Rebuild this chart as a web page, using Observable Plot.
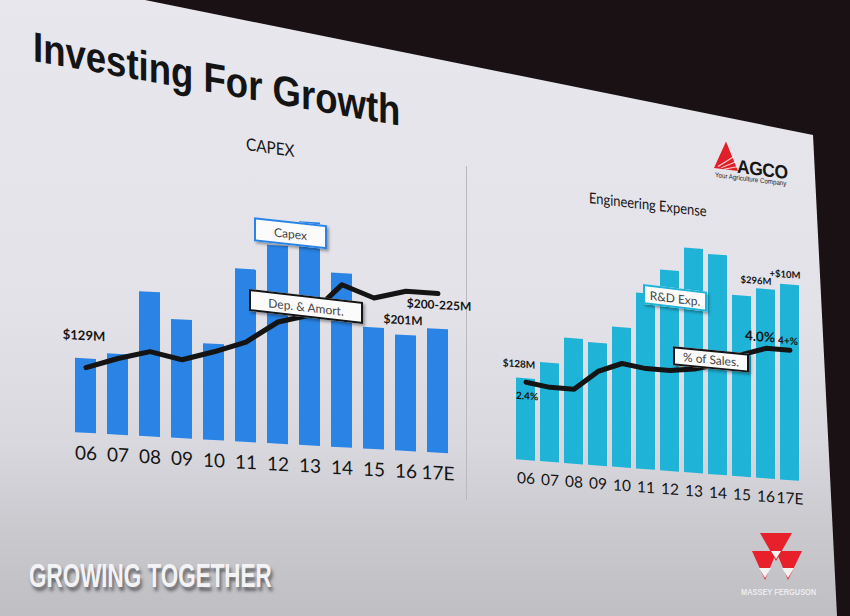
<!DOCTYPE html>
<html>
<head>
<meta charset="utf-8">
<script src="https://cdn.jsdelivr.net/npm/d3@7"></script>
<script src="https://cdn.jsdelivr.net/npm/@observablehq/plot@0.6"></script>
<style>
  html, body { margin: 0; padding: 0; }
  body { width: 850px; height: 616px; overflow: hidden; background: #1a1114; position: relative; }
  #slide { position: absolute; left: 0; top: 0; width: 850px; height: 616px;
    clip-path: polygon(0 0, 145px 0, 813px 135px, 837px 616px, 0 616px);
    background: linear-gradient(180deg, #e7e7ed 0%, #e2e2e8 50%, #d8d8de 72%, #c9c9ce 86%, #bebec3 100%); }
  .abs { position: absolute; transform-origin: 0 0; white-space: nowrap; line-height: 1; }
  #title { left: 33px; top: 23px; font: bold 42px "Liberation Sans", Arial, sans-serif; color: #141414;
    transform: skewY(10deg) scaleX(0.87); }
  .ctitle { font-family: Lato, sans-serif; color: #151515; }
  #capexTitle { left: 246px; top: 135px; font-size: 17px; transform: skewY(8deg) scaleX(0.9); }
  #engTitle { left: 589px; top: 190px; font-size: 15px; transform: skewY(6.6deg) scaleX(0.86); }
  #divider { left: 466px; top: 166px; width: 1px; height: 334px; background: #b9b9bf; }
  .chart { position: absolute; transform-origin: 0 0; }
  .chart svg { display: block; overflow: visible; }
  .box { position: absolute; box-sizing: border-box; background: #fbfbfb; font: 12px Lato, sans-serif; color: #444;
    display: flex; align-items: center; justify-content: center; transform-origin: 0 0;
    box-shadow: 2px 2px 3px rgba(0,0,0,0.35); white-space: nowrap; }
  #growing { left: 29px; top: 557px; font: bold 33.5px "Liberation Sans", Arial, sans-serif; color: #f3f3f5;
    transform: scaleX(0.67); text-shadow: 3px 4px 4px rgba(50,50,55,0.65); }
  #agco { left: 714px; top: 140px; width: 80px; height: 50px; transform: skewY(7deg); }
  #agco .name { position: absolute; left: 23px; top: 13px; font: bold 19px "Liberation Sans", Arial, sans-serif; color: #161616; transform: scaleX(0.92); transform-origin: 0 0; letter-spacing: -0.5px; }
  #agco .tag { position: absolute; left: 1px; top: 31px; font: 7px "Liberation Sans", Arial, sans-serif; color: #222; transform: scaleX(0.88); transform-origin: 0 0; white-space: nowrap; }
  #mf { left: 748px; top: 530px; width: 60px; height: 70px; }
  #mf .txt { position: absolute; left: -7px; top: 56px; font: bold 9.5px "Liberation Sans", Arial, sans-serif; color: #ececef; transform: scaleX(0.78); transform-origin: 0 0; white-space: nowrap; }
</style>
</head>
<body>
<div id="slide">
  <div id="title" class="abs">Investing For Growth</div>
  <div id="capexTitle" class="abs ctitle">CAPEX</div>
  <div id="engTitle" class="abs ctitle">Engineering Expense</div>
  <div id="divider" class="abs"></div>
  <div id="capexChart" class="chart"></div>
  <div id="engChart" class="chart"></div>
  <div id="agco" class="abs">
    <svg width="24" height="30" viewBox="0 0 24 30" style="position:absolute;left:0;top:0">
      <polygon points="12,0 24,28 0,28" fill="#e0202a"/>
      <path d="M4,26 L20,14 M7,27 L22,19 M10,28 L23,24" stroke="#fff" stroke-width="1" opacity="0.8"/>
    </svg>
    <div class="name">AGCO</div>
    <div class="tag">Your Agriculture Company</div>
  </div>
  <div id="mf" class="abs">
    <svg width="60" height="56" viewBox="0 0 60 56" style="position:absolute;left:0;top:0">
      <polygon points="12,3 44,3 28,31" fill="#e8202c"/>
      <polygon points="4,21 29,21 17,50" fill="#e8202c"/>
      <polygon points="28,21 54,21 40,50" fill="#e8202c"/>
      <polygon points="23,21 33,21 28,29" fill="#f2f2f2"/>
      <polygon points="11,38 23,38 17,48" fill="#f2f2f2"/>
      <polygon points="34,38 46,38 40,48" fill="#f2f2f2"/>
    </svg>
    <div class="txt">MASSEY FERGUSON</div>
  </div>
  <div id="growing" class="abs">GROWING TOGETHER</div>
</div>
<script>
// ---- data ----
const years = ["06", "07", "08", "09", "10", "11", "12", "13", "14", "15", "16", "17E"];
const capex = [129, 140, 251, 206, 167, 300, 344, 388, 302, 211, 201, 215];          // $M, bars
const depAmort = [114, 133, 148, 137, 154, 174, 212, 227, 283, 263, 278, 277];       // $M, line
const engExpense = [128, 155, 196, 192, 219, 275, 314, 351, 344, 283, 296, 306];     // $M, bars
const engPctSales = [2.4, 2.3, 2.3, 2.9, 3.2, 3.1, 3.1, 3.2, 3.4, 3.75, 4.0, 4.0];   // %, line
const capexLegend = ["Capex", "Dep. & Amort."];
const engLegend = ["R&D Exp.", "% of Sales."];
const capexNotes = [
  {year: "06", text: "$129M"},
  {year: "16", text: "$201M"},
  {year: "17E", text: "$200-225M"}
];
const engBarNotes = [
  {year: "06", text: "$128M"},
  {year: "16", text: "$296M"},
  {year: "17E", text: "+$10M"}
];
const engLineNotes = [
  {year: "06", text: "2.4%"},
  {year: "16", text: "4.0%"},
  {year: "17E", text: "4+%"}
];

const PCT_TO_M = 51; // secondary axis: % of sales drawn against the $M axis

const capexRows = years.map((year, i) => ({year, capex: capex[i], dep: depAmort[i]}));
const engRows = years.map((year, i) => ({year, eng: engExpense[i], pct: engPctSales[i]}));
const capexOf = d => capex[years.indexOf(d.year)];
const engOf = d => engExpense[years.indexOf(d.year)];
const pctOf = d => engPctSales[years.indexOf(d.year)] * PCT_TO_M;
const noteStyle = {fontFamily: "Lato, sans-serif", fontWeight: "bold", fill: "#151515", text: "text"};

// ---- CAPEX chart ----
const capexPlot = Plot.plot({
  width: 414, height: 279,
  marginTop: 5, marginBottom: 32, marginLeft: 8, marginRight: 8,
  x: {type: "band", domain: years, padding: 0.35, tickSize: 0, tickPadding: 13, label: null},
  y: {domain: [0, 420], axis: null},
  style: {fontFamily: "Lato, sans-serif", fontSize: "19px", color: "#151515", background: "transparent", overflow: "visible"},
  marks: [
    Plot.barY(capexRows, {x: "year", y: "capex", fill: "#2a84e6"}),
    Plot.line(capexRows, {x: "year", y: "dep", stroke: "#141414", strokeWidth: 5, strokeLinejoin: "round", strokeLinecap: "round"}),
    Plot.text(capexNotes.slice(0, 1), {...noteStyle, x: "year", y: capexOf, fontSize: 13, dx: -2, dy: -23}),
    Plot.text(capexNotes.slice(1, 2), {...noteStyle, x: "year", y: capexOf, fontSize: 12, dx: -3, dy: -15}),
    Plot.text(capexNotes.slice(2, 3), {...noteStyle, x: "year", y: capexOf, fontSize: 12, dx: 1, dy: -24})
  ]
});
const capexDiv = document.getElementById("capexChart");
capexDiv.style.left = "54px";
capexDiv.style.top = "184px";
capexDiv.style.transform = "skewY(3.23deg)";
capexDiv.appendChild(capexPlot);

function addBox(parent, text, left, top, w, h, border, skew) {
  const b = document.createElement("div");
  b.className = "box";
  b.textContent = text;
  Object.assign(b.style, {left: left + "px", top: top + "px", width: w + "px", height: h + "px",
    border: "2px solid " + border, transform: "skewY(" + skew + "deg)"});
  parent.appendChild(b);
}
addBox(capexDiv, capexLegend[0], 200, 22, 73, 24, "#2a84e6", 3);
addBox(capexDiv, capexLegend[1], 195, 94, 114, 22, "#141414", 3.3);

// ---- Engineering expense chart ----
const engPlot = Plot.plot({
  width: 317, height: 278,
  marginTop: 5, marginBottom: 30, marginLeft: 8, marginRight: 8,
  x: {type: "band", domain: years, padding: 0.2, tickSize: 0, tickPadding: 12, label: null},
  y: {domain: [0, 380], axis: null},
  style: {fontFamily: "Lato, sans-serif", fontSize: "15.5px", color: "#151515", background: "transparent", overflow: "visible"},
  marks: [
    Plot.barY(engRows, {x: "year", y: "eng", fill: "#1fb3d8"}),
    Plot.line(engRows, {x: "year", y: d => d.pct * PCT_TO_M, stroke: "#141414", strokeWidth: 5, strokeLinejoin: "round", strokeLinecap: "round"}),
    Plot.text(engBarNotes.slice(0, 1), {...noteStyle, x: "year", y: engOf, fontSize: 10, dx: -7, dy: -14}),
    Plot.text(engBarNotes.slice(1, 2), {...noteStyle, x: "year", y: engOf, fontSize: 9.5, dx: -10, dy: -8}),
    Plot.text(engBarNotes.slice(2, 3), {...noteStyle, x: "year", y: engOf, fontSize: 9.5, dx: -5, dy: -10}),
    Plot.text(engLineNotes.slice(0, 1), {...noteStyle, x: "year", y: pctOf, fontSize: 10, dx: 1, dy: 14}),
    Plot.text(engLineNotes.slice(1, 2), {...noteStyle, x: "year", y: pctOf, fontSize: 13.5, dx: -6, dy: -11}),
    Plot.text(engLineNotes.slice(2, 3), {...noteStyle, x: "year", y: pctOf, fontSize: 10, dx: -2, dy: -9})
  ]
});
const engDiv = document.getElementById("engChart");
engDiv.style.left = "499px";
engDiv.style.top = "210px";
engDiv.style.transform = "skewY(4.35deg)";
engDiv.appendChild(engPlot);
addBox(engDiv, engLegend[0], 144, 63, 64, 20, "#1fb3d8", 2.6);
addBox(engDiv, engLegend[1], 174, 123, 76, 19, "#141414", 1.2);
</script>
</body>
</html>
